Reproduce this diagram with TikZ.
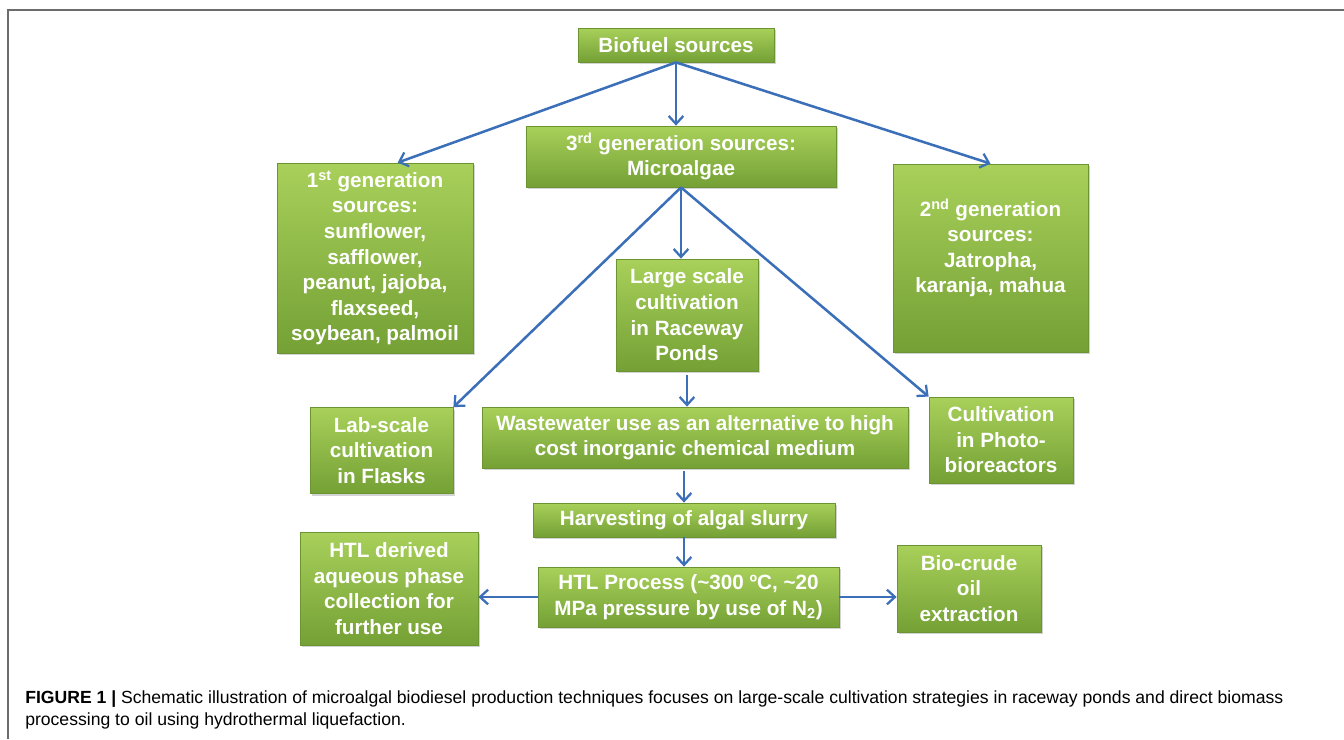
\documentclass[tikz,border=0pt]{standalone}
\usepackage{fontspec}
\setmainfont{Liberation Sans}
\usepackage{tikz}
\usepackage{xcolor}
\usetikzlibrary{arrows.meta,shadows}

\definecolor{gtop}{HTML}{A8D05A}
\definecolor{gbot}{HTML}{74A035}
\definecolor{gline}{HTML}{6A9530}
\definecolor{arrb}{HTML}{3B70B9}

\begin{document}
\begin{tikzpicture}[x=0.75pt,y=-0.75pt]%
  \tikzstyle{boxg}=[rectangle,draw=gline,line width=0.6pt,top color=gtop,bottom color=gbot,
    text=white,font=\fontsize{15.5}{19.2}\selectfont\bfseries,align=center,inner sep=2pt,
    drop shadow={shadow xshift=1.5pt,shadow yshift=-1.8pt,opacity=0.35}]
  \tikzstyle{arr}=[draw=arrb,line width=1.9pt,-{Straight Barb[length=6pt,width=11pt,line width=1.7pt]}]
  \useasboundingbox (0,0) rectangle (1344,739);
  \draw[gray!85!black,line width=1pt] (8,739) -- (8,10) -- (1344,10);
  % top row
  \node(bio)[boxg,minimum width=147pt,minimum height=25.5pt] at (676,45) {Biofuel sources};
  \node(g3)[boxg,minimum width=232.5pt,minimum height=45.75pt] at (681,156.5)
    {3\textsuperscript{rd} generation sources:\\Microalgae};
  \node(g1)[boxg,minimum width=147pt,minimum height=142.5pt] at (375,258)
    {1\textsuperscript{st} generation\\sources:\\sunflower,\\safflower,\\peanut, jajoba,\\flaxseed,\\soybean, palmoil};
  \node(g2)[boxg,minimum width=146.25pt,minimum height=141pt] at (990.5,258)
    {2\textsuperscript{nd} generation\\sources:\\Jatropha,\\karanja, mahua\\[-1pt]};
  % cultivation
  \node(pond)[boxg,minimum width=106.5pt,minimum height=84pt] at (687,315)
    {Large scale\\cultivation\\in Raceway\\Ponds};
  \node(lab)[boxg,minimum width=107.25pt,minimum height=64.5pt] at (381.5,450.5)
    {Lab-scale\\cultivation\\in Flasks};
  \node(ww)[boxg,minimum width=319.5pt,minimum height=45.75pt] at (695,437.5)
    {Wastewater use as an alternative to high\\cost inorganic chemical medium};
  \node(pbr)[boxg,minimum width=108pt,minimum height=64.5pt] at (1001,440)
    {Cultivation\\in Photo-\\bioreactors};
  % processing
  \node(harv)[boxg,minimum width=226.5pt,minimum height=25.5pt] at (684,520) {Harvesting of algal slurry};
  \node(htl)[boxg,minimum width=225.75pt,minimum height=45pt] at (688.5,597)
    {HTL Process ({\textasciitilde}300 ºC, {\textasciitilde}20\\MPa pressure by use of N\textsubscript{2})};
  \node(aq)[boxg,minimum width=133.5pt,minimum height=84.75pt] at (389,588.5)
    {HTL derived\\aqueous phase\\collection for\\further use};
  \node(oil)[boxg,minimum width=108pt,minimum height=65.25pt] at (969,588.5)
    {Bio-crude\\oil\\extraction};
  % connectors
  \draw[arr] (bio.south) -- ([xshift=17pt]g1.north);
  \draw[arr] (bio.south) -- (bio.south |- g3.north);
  \draw[arr] (bio.south) -- (g2.north);
  \draw[arr] (g3.south) -- (g3.south |- pond.north);
  \draw[arr] (g3.south) -- (lab.north east);
  \draw[arr] (g3.south) -- (pbr.north west);
  \draw[arr,shorten <=3pt] (pond.south) -- (pond.south |- ww.north);
  \draw[arr,shorten <=2pt] (harv.north |- ww.south) -- (harv.north);
  \draw[arr] (harv.south) -- (harv.south |- htl.north);
  \draw[arr] (htl.west) -- (htl.west -| aq.east);
  \draw[arr] (htl.east) -- (htl.east -| oil.west);
  % caption
  \node(cap)[anchor=west,align=left,inner sep=0pt,font=\fontsize{13.2}{16.5}\selectfont] at (25,710)
    {\textbf{FIGURE 1 |} Schematic illustration of microalgal biodiesel production techniques focuses on large-scale cultivation strategies in raceway ponds and direct biomass\\
     processing to oil using hydrothermal liquefaction.};
\end{tikzpicture}
\end{document}
